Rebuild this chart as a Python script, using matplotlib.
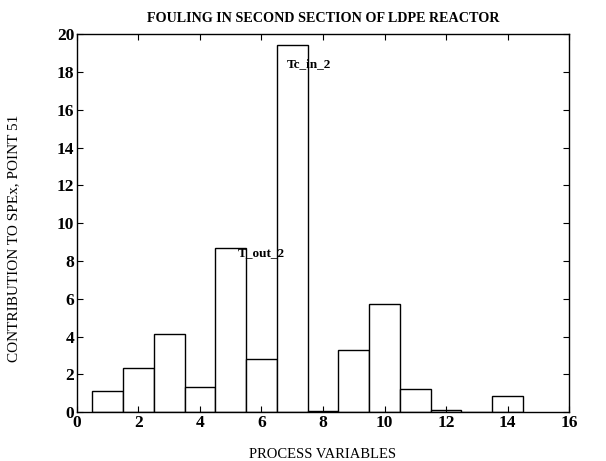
import matplotlib
matplotlib.use("Agg")
import matplotlib.pyplot as plt

# process variable index and contribution values
variables = [1, 2, 3, 4, 5, 6, 7, 8, 9, 10, 11, 12, 13, 14]
contribution = [1.1, 2.35, 4.15, 1.35, 8.7, 2.8, 19.45, 0.05, 3.3, 5.7, 1.2, 0.12, 0.03, 0.88]

# labels for the largest contributors
label_names = ["T_out_2", "Tc_in_2"]
label_x = [5.22, 6.83]
label_y = [8.4, 18.4]

plt.rcParams['font.family'] = ['Liberation Serif', 'DejaVu Serif']

fig = plt.figure(figsize=(6.06, 4.61), dpi=100)
ax = fig.add_axes([0.127, 0.106, 0.812, 0.820])

ax.bar(variables, contribution, width=1.0, color='white', edgecolor='black', linewidth=1.0)

for name, x, y in zip(label_names, label_x, label_y):
    ax.text(x, y, name, fontsize=9.5, fontweight='bold', ha='left', va='center')

ax.set_xlim(0, 16)
ax.set_ylim(0, 20)
ax.set_xticks(range(0, 17, 2))
ax.set_yticks(range(0, 21, 2))
ax.tick_params(direction='in', top=True, right=True, labelsize=12.5, length=4, width=0.8, pad=2)
for lbl in ax.get_xticklabels() + ax.get_yticklabels():
    lbl.set_fontweight('bold')
for sp in ax.spines.values():
    sp.set_linewidth(1.0)

ax.set_xlabel('PROCESS VARIABLES', fontsize=10.5, labelpad=12)
ax.set_ylabel('CONTRIBUTION TO SPEx, POINT 51', fontsize=11)
ax.yaxis.set_label_coords(-0.115, 0.46)
ax.set_title('FOULING IN SECOND SECTION OF LDPE REACTOR', fontsize=10.2, fontweight='bold', pad=9)

fig.savefig('out.png', dpi=100)
